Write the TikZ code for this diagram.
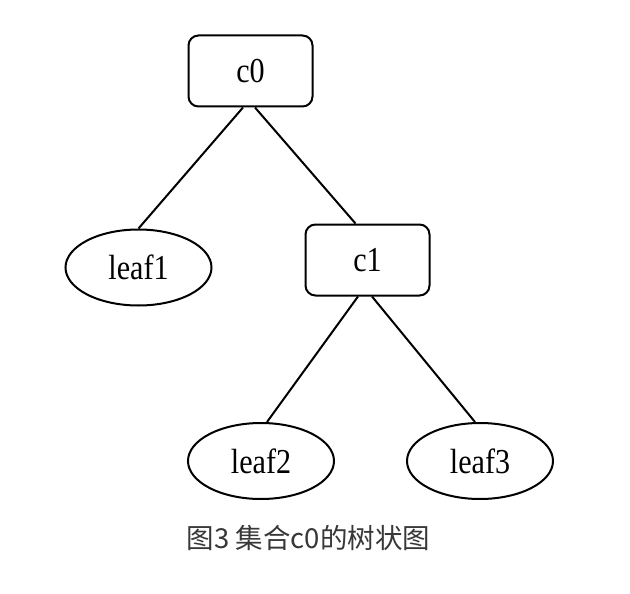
\documentclass[tikz,border=0pt]{standalone}
\usepackage{fontspec}
\usetikzlibrary{shapes.geometric}
\newfontfamily\nodefont[FakeStretch=0.86]{Liberation Serif}
\newfontfamily\cjkfont{Noto Sans CJK SC}
\begin{document}
\begin{tikzpicture}[x=1pt,y=-1pt,
  box/.style={draw,line width=2pt,rounded corners=10pt,minimum width=124pt,minimum height=71pt,inner sep=0pt,font=\nodefont\fontsize{35}{35}\selectfont},
  leaf/.style={draw,ellipse,line width=2pt,minimum width=146pt,minimum height=76pt,inner sep=0pt,font=\nodefont\fontsize{35}{35}\selectfont},
  edge/.style={line width=2pt}]
\useasboundingbox[fill=white] (0,0) rectangle (630,594);
\node[box] (c0) at (250.5,71) {c0};
\node[box] (c1) at (367.5,260) {c1};
\node[leaf] (leaf1) at (138.5,267.5) {leaf1};
\node[leaf] (leaf2) at (261,461) {leaf2};
\node[leaf] (leaf3) at (480,461) {leaf3};
\node[font=\cjkfont\fontsize{27.5}{27.5}\selectfont,text=black!78] (cap) at (308.5,538) {图3 集合c0的树状图};
\draw[edge] ([xshift=-7.5pt]c0.south) -- ([xshift=0pt]leaf1.north);
\draw[edge] ([xshift=4.5pt]c0.south) -- ([xshift=-12pt]c1.north);
\draw[edge] ([xshift=-9.5pt]c1.south) -- ([xshift=6pt]leaf2.north);
\draw[edge] ([xshift=4.5pt]c1.south) -- ([xshift=-5pt]leaf3.north);
\end{tikzpicture}
\end{document}
